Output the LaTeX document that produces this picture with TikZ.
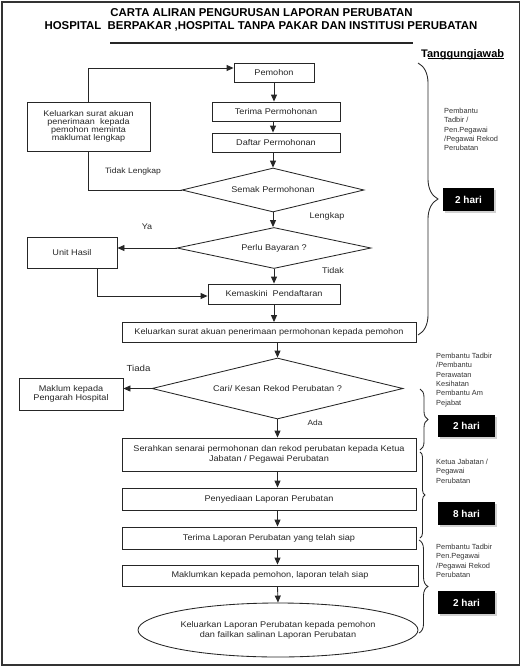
\documentclass[tikz,border=0pt]{standalone}
\usepackage{fontspec}
\setmainfont{Liberation Sans}
\newfontfamily\mf[FakeStretch=1.1]{Liberation Sans}
\usetikzlibrary{shapes.geometric,arrows.meta,decorations.pathreplacing,shadows,calc}
\begin{document}
\begin{tikzpicture}[x=1pt,y=-1pt,
  ln/.style={line width=0.85pt, draw=black!85},
  arr/.style={ln, -{Triangle[length=7pt,width=6pt]}},
  box/.style={ln, rectangle, inner sep=0, align=center, text=black!85,
    font=\mf\fontsize{8.3}{9.3}\selectfont},
  dia/.style={ln, diamond, inner sep=0, shape aspect=4, align=center, text=black!85,
    font=\mf\fontsize{8.3}{9.3}\selectfont},
  lbl/.style={inner sep=0, text=black!85, font=\mf\fontsize{7.8}{9}\selectfont},
  side/.style={anchor=north west, inner sep=0, align=left, text=black!80,
    font=\fontsize{7.4}{9.3}\selectfont},
  hari/.style={fill=black, text=white, inner sep=0, font=\bfseries\fontsize{10}{12}\selectfont,
    drop shadow={shadow xshift=2pt, shadow yshift=-2pt, fill=black!30, opacity=0.6}},
  curly/.style={ln, decorate}
]
\useasboundingbox (0,0) rectangle (522,667);
% frame
\draw[line width=1.6pt, black!80] (2,2) rectangle (519.5,665);
% title
\node[inner sep=0, font=\bfseries\fontsize{11.4}{13}\selectfont] (t1) at (261.5,13) {CARTA ALIRAN PENGURUSAN LAPORAN PERUBATAN};
\node[inner sep=0, font=\bfseries\fontsize{11.4}{13}\selectfont] (t2) at (261,26.5) {HOSPITAL\ \ BERPAKAR ,HOSPITAL TANPA PAKAR DAN INSTITUSI PERUBATAN};
\draw[line width=1.1pt, black!85] (110,43) -- (413,43);
\node[anchor=base west, inner sep=0, font=\bfseries\fontsize{11}{13}\selectfont] (tg) at (421,57.5) {Tanggungjawab};
\draw[line width=0.8pt] ([xshift=6.9pt,yshift=-1.2pt]tg.base west) -- ([yshift=-1.2pt]tg.base east);

% main flow
\node[box, minimum width=80, minimum height=19] (pemohon) at (274,72.5) {Pemohon};
\node[box, minimum width=128, minimum height=19] (terima) at (276,111.5) {Terima Permohonan};
\node[box, minimum width=128, minimum height=19] (daftar) at (276,142.5) {Daftar Permohonan};
\node[dia, minimum width=182, minimum height=44] (semak) at (273,190) {Semak Permohonan};
\node[box, minimum width=123, minimum height=49, font=\mf\fontsize{8.2}{7.9}\selectfont] (kel1) at (88.5,126.5)
  {Keluarkan surat akuan\\penerimaan\ \ kepada\\pemohon meminta\\maklumat lengkap};
\node[dia, minimum width=194, minimum height=41] (perlu) at (274,248) {Perlu Bayaran ?};
\node[box, minimum width=90, minimum height=31] (unit) at (72,252.5) {Unit Hasil};
\node[box, minimum width=132, minimum height=20] (kemas) at (274,294) {Kemaskini\ \ Pendaftaran};
\node[box, minimum width=294, minimum height=20] (kel2) at (269,332.5) {Keluarkan surat akuan penerimaan permohonan kepada pemohon};
\node[dia, minimum width=251, minimum height=61] (cari) at (277.5,388.5) {Cari/ Kesan Rekod Perubatan ?};
\node[box, minimum width=104, minimum height=32] (maklum) at (71,394) {Maklum kepada\\Pengarah Hospital};
\node[box, minimum width=294, minimum height=33, font=\mf\fontsize{8.3}{9.4}\selectfont] (serah) at (269,454.5)
  {Serahkan senarai permohonan dan rekod perubatan kepada Ketua\\Jabatan / Pegawai Perubatan};
\node[box, minimum width=294, minimum height=22] (sedia) at (269,499) {Penyediaan Laporan Perubatan};
\node[box, minimum width=294, minimum height=22] (terimaL) at (269,538) {Terima Laporan Perubatan yang telah siap};
\node[box, minimum width=296, minimum height=21] (maklumkan) at (270,575.5) {Maklumkan kepada pemohon, laporan telah siap};
\node[ln, ellipse, inner sep=0, minimum width=280, minimum height=54, align=center, text=black!85,
  font=\mf\fontsize{8.3}{10.3}\selectfont] (akhir) at (278,630)
  {Keluarkan Laporan Perubatan kepada pemohon\\dan failkan salinan Laporan Perubatan};

% labels
\node[lbl] (lTL) at (133,171) {Tidak Lengkap};
\node[lbl, font=\mf\fontsize{8.2}{9}\selectfont] (lLk) at (327,216) {Lengkap};
\node[lbl, font=\mf\fontsize{8.2}{9}\selectfont] (lYa) at (147,227) {Ya};
\node[lbl, font=\mf\fontsize{8.2}{9}\selectfont] (lTd) at (333,271) {Tidak};
\node[lbl, font=\mf\fontsize{8.8}{9}\selectfont] (lTi) at (138.5,368) {Tiada};
\node[lbl, font=\mf\fontsize{7.6}{9}\selectfont] (lAd) at (315,423) {Ada};

% connectors
\draw[arr] (pemohon.south) -- (pemohon.south |- terima.north);
\draw[arr] ([xshift=-3pt]terima.south) -- ([xshift=-3pt]terima.south |- daftar.north);
\draw[arr] ([xshift=-3pt]daftar.south) -- ([xshift=-3pt]daftar.south |- semak.north);
\draw[arr] (semak.south) -- (semak.south |- perlu.north);
\draw[arr] (perlu.south) -- (perlu.south |- kemas.north);
\draw[arr] (kemas.south) -- (kemas.south |- kel2.north);
\draw[arr] (cari.north |- kel2.south) -- (cari.north);
\draw[arr] (cari.south) -- (cari.south |- serah.north);
\draw[arr] (cari.south |- serah.south) -- (cari.south |- sedia.north);
\draw[arr] (cari.south |- sedia.south) -- (cari.south |- terimaL.north);
\draw[arr] (cari.south |- terimaL.south) -- (cari.south |- maklumkan.north);
\draw[arr] (cari.south |- maklumkan.south) -- (akhir.north);
\draw[arr] (kel1.north) |- ([yshift=4.5pt]pemohon.west);
\draw[ln] (semak.west) -| (kel1.south);
\draw[arr] (perlu.west) -- (perlu.west -| unit.east);
\draw[arr] ([xshift=25pt]unit.south) |- ([yshift=-2pt]kemas.west);
\draw[arr] (cari.west) -- (cari.west -| maklum.east);

% braces
\draw[curly, decoration={brace, amplitude=20pt}] (418,63) -- (418,335);
\draw[curly, decoration={brace, amplitude=8pt}] (420,389) -- (420,450);
\draw[curly, decoration={brace, amplitude=5pt}] (420,452) -- (420,538);
\draw[curly, decoration={brace, amplitude=9pt}] (419,540) -- (419,633);

% responsibilities
\node[side] (r1) at (444,108) {Pembantu\\Tadbir /\\Pen.Pegawai\\/Pegawai Rekod\\Perubatan};
\node[side] (r2) at (436,353) {Pembantu Tadbir\\/Pembantu\\Perawatan\\Kesihatan\\Pembantu Am\\Pejabat};
\node[side] (r3) at (436,459) {Ketua Jabatan /\\Pegawai\\Perubatan};
\node[side] (r4) at (436,544) {Pembantu Tadbir\\Pen.Pegawai\\/Pegawai Rekod\\Perubatan};

\node[hari, minimum width=51, minimum height=23] (h1) at (468.5,199.5) {2 hari};
\node[hari, minimum width=57, minimum height=22] (h2) at (466.5,426) {2 hari};
\node[hari, minimum width=57, minimum height=23] (h3) at (466.5,513.5) {8 hari};
\node[hari, minimum width=57, minimum height=23] (h4) at (466.5,602.5) {2 hari};
\end{tikzpicture}
\end{document}
